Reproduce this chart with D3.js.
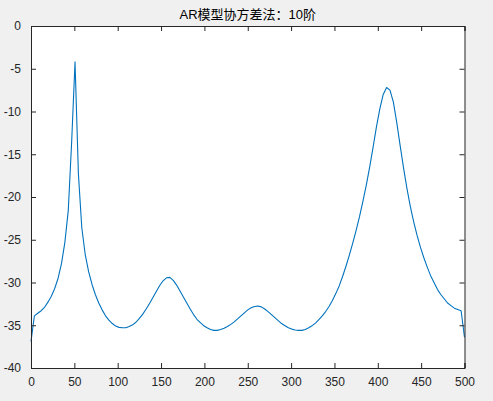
<!DOCTYPE html>
<html><head><meta charset="utf-8">
<script src="https://cdn.jsdelivr.net/npm/d3@7"></script>
<style>
html,body{margin:0;padding:0;background:#f0f0f0;}
svg{display:block;}
text{font-family:"Liberation Sans",Arial,"Noto Sans CJK SC",sans-serif;}
</style></head>
<body>
<svg id="chart" width="493" height="401"></svg>
<script>
const titleText = "AR模型协方差法：10阶";
const xTicks = [0,50,100,150,200,250,300,350,400,450,500];
const yTicks = [0,-5,-10,-15,-20,-25,-30,-35,-40];
const freqStep = 500/128;
const psdValues = [
-36.9,-33.9,-33.6,-33.3,-32.9,-32.3,-31.6,-30.7,-29.5,-27.8,
-25.3,-21.6,-13.6,-4.2,-17.3,-23.6,-26.7,-28.7,-30.2,-31.4,
-32.4,-33.2,-33.9,-34.4,-34.8,-35.1,-35.25,-35.3,-35.3,-35.15,
-34.95,-34.65,-34.2,-33.7,-33.1,-32.45,-31.75,-31.05,-30.35,-29.8,
-29.45,-29.4,-29.75,-30.3,-31.0,-31.7,-32.4,-33.1,-33.75,-34.3,
-34.7,-35.05,-35.3,-35.5,-35.6,-35.6,-35.5,-35.35,-35.15,-34.9,
-34.6,-34.25,-33.9,-33.55,-33.2,-32.95,-32.8,-32.75,-32.85,-33.1,
-33.4,-33.75,-34.1,-34.45,-34.8,-35.05,-35.3,-35.45,-35.55,-35.6,
-35.6,-35.5,-35.3,-35.05,-34.75,-34.35,-33.9,-33.4,-32.8,-32.1,
-31.3,-30.4,-29.3,-28.1,-26.8,-25.4,-23.9,-22.3,-20.5,-18.6,
-16.5,-14.2,-11.8,-9.7,-8.0,-7.2,-7.5,-8.9,-11.3,-14.0,
-16.6,-19.0,-21.1,-22.9,-24.5,-25.9,-27.1,-28.2,-29.2,-30.0,
-30.8,-31.4,-31.9,-32.4,-32.7,-33.0,-33.15,-33.3,-36.4
];
const freqs = psdValues.map((_, i) => i * freqStep);

const svg = d3.select("#chart");
const L = 31, R = 464.5, T = 26, B = 368;
const x = d3.scaleLinear().domain([0, 500]).range([L, R]);
const y = d3.scaleLinear().domain([-40, 0]).range([B, T]);
const axisColor = "#262626";

svg.append("rect").attr("x", L).attr("y", T).attr("width", R - L).attr("height", B - T).attr("fill", "#fff");

const line = d3.line().x((d, i) => x(freqs[i])).y(d => y(d));
svg.append("path").datum(psdValues).attr("d", line)
  .attr("fill", "none").attr("stroke", "#0072BD").attr("stroke-width", 1.1)
  .attr("stroke-linejoin", "round");

const fs = 12;
const gB = svg.append("g").attr("transform", `translate(0,${B})`)
  .call(d3.axisBottom(x).tickValues(xTicks).tickSize(-5).tickPadding(9).tickFormat(d3.format("d")));
const gT = svg.append("g").attr("transform", `translate(0,${T})`)
  .call(d3.axisTop(x).tickValues(xTicks).tickSize(-5).tickFormat(""));
const gL = svg.append("g").attr("transform", `translate(${L},0)`)
  .call(d3.axisLeft(y).tickValues(yTicks).tickSize(-5).tickPadding(10).tickFormat(d => String(d).replace("−","-")));
const gR = svg.append("g").attr("transform", `translate(${R},0)`)
  .call(d3.axisRight(y).tickValues(yTicks).tickSize(-5).tickFormat(""));

[gB, gT, gL, gR].forEach(g => {
  g.select(".domain").attr("stroke", axisColor).attr("stroke-width", 1);
  g.selectAll(".tick line").attr("stroke", axisColor);
  g.selectAll("text").attr("fill", axisColor).attr("font-size", fs)
    .attr("font-family", "Liberation Sans, Arial, sans-serif");
});
gT.selectAll(".tick text").remove();
gR.selectAll(".tick text").remove();

svg.append("text").attr("x", (L + R) / 2).attr("y", 19)
  .attr("text-anchor", "middle").attr("font-size", 13).attr("fill", "#000")
  .style("font-family", "'Liberation Sans','Noto Sans CJK SC',sans-serif")
  .text(titleText);
</script>
</body></html>
